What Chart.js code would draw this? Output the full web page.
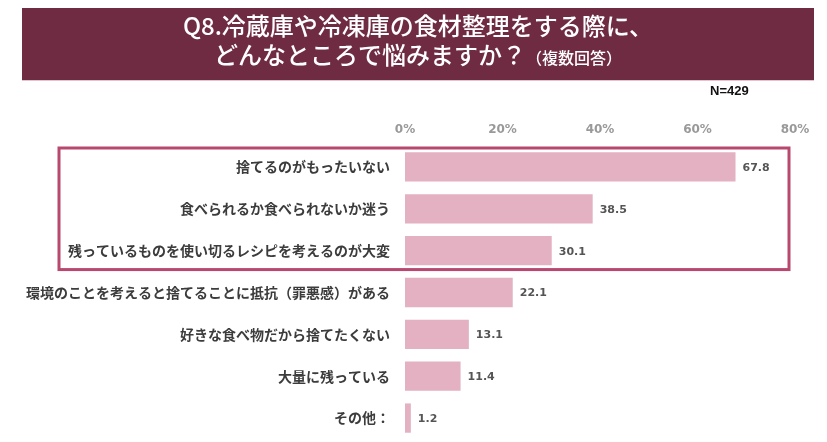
<!DOCTYPE html>
<html>
<head>
<meta charset="utf-8">
<script src="https://cdn.jsdelivr.net/npm/chart.js@4"></script>
<style>
  body { margin: 0; background: #fff; }
  #wrap { position: relative; width: 827px; height: 442px; overflow: hidden; }
  #banner {
    position: absolute; left: 22px; top: 8px; width: 792px; height: 72px;
    background: #6f2b42; color: #fff; text-align: center;
    font-family: "Noto Sans CJK JP", sans-serif; font-weight: 500;
    box-shadow: 0 1px 0 #e3c3cf;
  }
  #banner .l1 { position: absolute; left: 0; right: 0; top: 2px; font-size: 24px; line-height: 30px; }
  #banner .l2 { position: absolute; left: 0; right: 0; top: 31px; font-size: 24px; line-height: 30px; }
  #banner .small { font-size: 16px; }
  #n { position: absolute; left: 710px; top: 83px; font: bold 13px "Liberation Sans", Arial, sans-serif; color: #111; }
  canvas { position: absolute; left: 0; top: 0; }
</style>
</head>
<body>
<div id="wrap">
  <canvas id="myChart" width="827" height="442"></canvas>
  <div id="banner">
    <div class="l1">Q8.冷蔵庫や冷凍庫の食材整理をする際に、</div>
    <div class="l2">どんなところで悩みますか？<span class="small">（複数回答）</span></div>
  </div>
  <div id="n">N=429</div>
</div>
<script>
const labels = [
    '捨てるのがもったいない',
    '食べられるか食べられないか迷う',
    '残っているものを使い切るレシピを考えるのが大変',
    '環境のことを考えると捨てることに抵抗（罪悪感）がある',
    '好きな食べ物だから捨てたくない',
    '大量に残っている',
    'その他：'
];
const values = [67.8, 38.5, 30.1, 22.1, 13.1, 11.4, 1.2];
const xTicks = [0, 20, 40, 60, 80];

// value labels at the end of each bar
const valueLabels = {
    id: 'valueLabels',
    afterDatasetsDraw(chart) {
        const ctx = chart.ctx;
        const meta = chart.getDatasetMeta(0);
        ctx.save();
        ctx.font = 'bold 11px "DejaVu Sans", Verdana, sans-serif';
        ctx.fillStyle = '#555';
        ctx.textAlign = 'left';
        ctx.textBaseline = 'middle';
        meta.data.forEach((bar, i) => {
            ctx.fillText(values[i].toFixed(1), bar.x + 7, bar.y + 1);
        });
        ctx.restore();
    }
};

// frame round the top three items
const highlightBox = {
    id: 'highlightBox',
    afterDraw(chart) {
        const ctx = chart.ctx;
        const y = chart.scales.y;
        const step = y.getPixelForValue(1) - y.getPixelForValue(0);
        const top = y.getPixelForValue(0) - step / 2 + 2;
        const bottom = y.getPixelForValue(2) + step / 2 - 2;
        ctx.save();
        ctx.strokeStyle = '#b8486f';
        ctx.lineWidth = 3;
        ctx.strokeRect(59, top, chart.chartArea.right - 6 - 59, bottom - top);
        ctx.restore();
    }
};

const ctx = document.getElementById('myChart').getContext('2d');
new Chart(ctx, {
    type: 'bar',
    data: {
        labels: labels,
        datasets: [{
            data: values,
            backgroundColor: '#e3b1c2',
            barPercentage: 0.7,
            categoryPercentage: 1.0
        }]
    },
    options: {
        indexAxis: 'y',
        responsive: false,
        animation: false,
        devicePixelRatio: 1,
        layout: { padding: { top: 100, right: 32, left: 0, bottom: 3 } },
        plugins: { legend: { display: false }, tooltip: { enabled: false } },
        scales: {
            x: {
                position: 'top',
                min: 0,
                max: 80,
                afterFit: s => { s.height = 46; s.paddingTop = 0; s.paddingBottom = 0; },
                afterBuildTicks: s => { s.ticks = xTicks.map(v => ({ value: v })); },
                grid: { display: false, drawTicks: false },
                border: { display: false },
                ticks: {
                    padding: 9,
                    color: '#999',
                    font: { family: '"DejaVu Sans", Verdana, sans-serif', size: 12, weight: 'bold' },
                    callback: v => v + '%'
                }
            },
            y: {
                afterFit: s => { s.width = 405; s.paddingTop = 0; s.paddingBottom = 0; },
                grid: { display: false, drawTicks: false },
                border: { display: false },
                ticks: {
                    autoSkip: false,
                    padding: 15,
                    color: '#3c3c3c',
                    font: { family: '"Noto Sans CJK JP", sans-serif', size: 14, weight: 'bold' }
                }
            }
        }
    },
    plugins: [valueLabels, highlightBox]
});
</script>
</body>
</html>
